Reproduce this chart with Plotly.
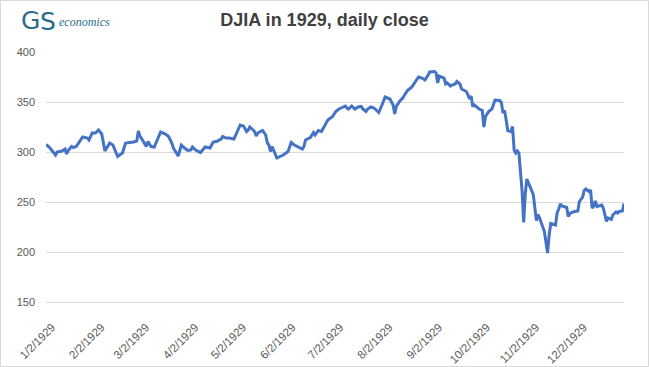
import plotly.graph_objects as go

# ---- data ----
dates = [
    "1929-01-02", "1929-01-04", "1929-01-08", "1929-01-09", "1929-01-12", "1929-01-14",
    "1929-01-15", "1929-01-16", "1929-01-18", "1929-01-19", "1929-01-21", "1929-01-23",
    "1929-01-25", "1929-01-28", "1929-01-29", "1929-01-31", "1929-02-02", "1929-02-04",
    "1929-02-06", "1929-02-08", "1929-02-11", "1929-02-13", "1929-02-16", "1929-02-19",
    "1929-02-21", "1929-02-26", "1929-02-28", "1929-03-01", "1929-03-02", "1929-03-04",
    "1929-03-06", "1929-03-07", "1929-03-09", "1929-03-11", "1929-03-13", "1929-03-15",
    "1929-03-18", "1929-03-20", "1929-03-22", "1929-03-23", "1929-03-26", "1929-03-28",
    "1929-03-30", "1929-04-01", "1929-04-03", "1929-04-04", "1929-04-06", "1929-04-09",
    "1929-04-12", "1929-04-15", "1929-04-17", "1929-04-19", "1929-04-22", "1929-04-23",
    "1929-04-25", "1929-04-27", "1929-04-30", "1929-05-02", "1929-05-04", "1929-05-06",
    "1929-05-08", "1929-05-09", "1929-05-10", "1929-05-13", "1929-05-14", "1929-05-15",
    "1929-05-18", "1929-05-20", "1929-05-21", "1929-05-22", "1929-05-23", "1929-05-24",
    "1929-05-25", "1929-05-27", "1929-05-29", "1929-05-31", "1929-06-03", "1929-06-05",
    "1929-06-07", "1929-06-10", "1929-06-12", "1929-06-13", "1929-06-14", "1929-06-17",
    "1929-06-19", "1929-06-20", "1929-06-22", "1929-06-24", "1929-06-26", "1929-06-27",
    "1929-06-28", "1929-07-01", "1929-07-03", "1929-07-05", "1929-07-08", "1929-07-09",
    "1929-07-10", "1929-07-11", "1929-07-13", "1929-07-15", "1929-07-17", "1929-07-19",
    "1929-07-20", "1929-07-22", "1929-07-23", "1929-07-25", "1929-07-27", "1929-07-30",
    "1929-08-01", "1929-08-03", "1929-08-06", "1929-08-07", "1929-08-08", "1929-08-09",
    "1929-08-10", "1929-08-12", "1929-08-14", "1929-08-16", "1929-08-17", "1929-08-19",
    "1929-08-20", "1929-08-22", "1929-08-24", "1929-08-26", "1929-08-28", "1929-08-30",
    "1929-08-31", "1929-09-03", "1929-09-04", "1929-09-05", "1929-09-06", "1929-09-09",
    "1929-09-10", "1929-09-11", "1929-09-13", "1929-09-14", "1929-09-16", "1929-09-17",
    "1929-09-19", "1929-09-20", "1929-09-23", "1929-09-24", "1929-09-25", "1929-09-26",
    "1929-09-27", "1929-09-28", "1929-10-01", "1929-10-03", "1929-10-04", "1929-10-05",
    "1929-10-07", "1929-10-09", "1929-10-11", "1929-10-14", "1929-10-15", "1929-10-16",
    "1929-10-17", "1929-10-18", "1929-10-19", "1929-10-21", "1929-10-22", "1929-10-23",
    "1929-10-24", "1929-10-25", "1929-10-26", "1929-10-28", "1929-10-29", "1929-10-30",
    "1929-10-31", "1929-11-04", "1929-11-06", "1929-11-07", "1929-11-08", "1929-11-11",
    "1929-11-12", "1929-11-13", "1929-11-14", "1929-11-15", "1929-11-18", "1929-11-19",
    "1929-11-20", "1929-11-21", "1929-11-22", "1929-11-23", "1929-11-25", "1929-11-26",
    "1929-11-27", "1929-11-29", "1929-11-30", "1929-12-02", "1929-12-03", "1929-12-04",
    "1929-12-05", "1929-12-06", "1929-12-07", "1929-12-09", "1929-12-10", "1929-12-11",
    "1929-12-12", "1929-12-13", "1929-12-14", "1929-12-17", "1929-12-18", "1929-12-20",
    "1929-12-21", "1929-12-23", "1929-12-24", "1929-12-26", "1929-12-27", "1929-12-28",
    "1929-12-30", "1929-12-31",
]

closes = [
    307.5, 305, 297, 300, 301, 303,
    298, 301.5, 305.5, 304.5, 305.5, 310.5,
    315, 314, 312, 319, 319, 322,
    318, 301, 309, 307, 295.5, 299,
    309, 310, 311, 321, 316, 311,
    305.5, 310.5, 305.5, 305, 312, 320,
    318, 315.5, 309, 304, 296, 307,
    304, 301.5, 302, 305, 302, 299.5,
    305, 304, 310, 310.5, 313, 315.5,
    314, 314, 313, 319.5, 327, 326,
    320.5, 322, 325, 320.5, 316, 319,
    321.5, 317, 309, 307, 300.5, 305.5,
    302, 294, 295.5, 297, 300.5, 309.5,
    307, 305, 303, 305.5, 312, 314.5,
    319.5, 317, 321.5, 320.5, 326, 330,
    332, 335.5, 340.5, 343, 345, 346,
    344, 343, 346, 343, 345, 345.5,
    343, 340.5, 343, 345, 344, 339.5,
    347, 355, 353, 350.5, 347, 338,
    345.5, 350.5, 354, 359, 361.5, 364,
    365.5, 370.5, 375, 374, 372, 377,
    380, 380.5, 379, 369, 376, 374,
    368, 369, 366, 367, 368, 370.5,
    368, 363, 360.5, 357, 353, 356,
    345.5, 347, 343, 341.5, 325, 335.5,
    340.5, 343, 352, 351.5, 349.5, 339,
    341.5, 332, 321.5, 320.5, 325.5, 302,
    299, 301, 299, 261, 229.5, 258.5,
    273, 257.5, 231.5, 237.5, 234, 220.5,
    210, 199, 217, 228.5, 227, 239,
    243, 248, 246, 245.5, 244.5, 235.5,
    238.5, 240, 240.5, 241, 250.5, 253.5,
    255, 261.5, 263, 260.5, 262, 244,
    246, 251, 245.5, 247, 244, 230.5,
    234, 232.5, 237, 240, 239, 240.5,
    241, 248.5,
]

tick_dates = [
    "1929-01-02", "1929-02-02", "1929-03-02", "1929-04-02", "1929-05-02", "1929-06-02",
    "1929-07-02", "1929-08-02", "1929-09-02", "1929-10-02", "1929-11-02", "1929-12-02",
]
tick_labels = [
    "1/2/1929", "2/2/1929", "3/2/1929", "4/2/1929", "5/2/1929", "6/2/1929",
    "7/2/1929", "8/2/1929", "9/2/1929", "10/2/1929", "11/2/1929", "12/2/1929",
]
y_ticks = [150, 200, 250, 300, 350, 400]

title_text = "DJIA in 1929, daily close"

# ---- figure ----
W, H = 649, 367
ML, MR, MT, MB = 46, 25, 52, 65
PW, PH = W - ML - MR, H - MT - MB

def px_x(p):
    return (p - ML) / PW

def px_y(p):
    return (H - MB - p) / PH

fig = go.Figure()
fig.add_trace(go.Scatter(
    x=dates, y=closes, mode="lines",
    line=dict(color="#4472C4", width=3),
    hoverinfo="x+y", showlegend=False,
))

y_font = dict(family="Liberation Sans, Arial, sans-serif", size=11, color="#595959")
x_font = dict(family="Liberation Sans, Arial, sans-serif", size=11.5, color="#595959")
teal = "#2a6d8c"

fig.update_layout(
    width=W, height=H,
    margin=dict(l=ML, r=MR, t=MT, b=MB, pad=0, autoexpand=False),
    paper_bgcolor="white", plot_bgcolor="white",
    title=dict(
        text="<b>" + title_text + "</b>",
        x=0.5, xref="container", xanchor="center",
        y=1 - 20 / H, yref="container", yanchor="middle",
        font=dict(family="Liberation Sans, Arial, sans-serif", size=18, color="#404040"),
    ),
    xaxis=dict(
        type="date", automargin=False,
        range=["1929-01-02", "1929-12-31"],
        tickmode="array", tickvals=tick_dates, ticktext=tick_labels,
        tickangle=-45, tickfont=x_font,
        showgrid=False, zeroline=False,
        showline=True, linecolor="#d9d9d9", linewidth=1,
        ticks="", ticklabelstandoff=13, ticklabelshift=6,
    ),
    yaxis=dict(
        automargin=False,
        range=[150, 400], tickmode="array", tickvals=y_ticks,
        tickfont=y_font,
        showgrid=True, gridcolor="#d9d9d9", gridwidth=1,
        zeroline=False, showline=False, ticks="",
        ticklabelstandoff=10,
    ),
    shapes=[dict(
        type="rect", xref="paper", yref="paper",
        x0=px_x(0.5), x1=px_x(W - 0.5), y0=px_y(H - 0.5), y1=px_y(0.5),
        line=dict(color="#d9d9d9", width=1), layer="below",
    )],
    annotations=[
        dict(text="G", xref="paper", yref="paper", x=px_x(30), y=px_y(21),
             xanchor="center", yanchor="middle", showarrow=False,
             font=dict(family="DejaVu Sans, sans-serif", size=25, color=teal)),
        dict(text="S", xref="paper", yref="paper", x=px_x(48), y=px_y(22),
             xanchor="center", yanchor="middle", showarrow=False,
             font=dict(family="DejaVu Sans, sans-serif", size=25, color=teal)),
        dict(text="<i>economics</i>", xref="paper", yref="paper", x=px_x(57), y=px_y(22),
             xanchor="left", yanchor="middle", showarrow=False,
             font=dict(family="Liberation Serif, serif", size=12, color=teal)),
    ],
)

fig.write_html("out.html", config={"displayModeBar": False})

# remove the browser's default 8px body margin so the figure sits at the page origin
with open("out.html", "r", encoding="utf-8") as f:
    html = f.read()
html = html.replace("<head>", "<head><style>html,body{margin:0;padding:0;}</style>", 1)
with open("out.html", "w", encoding="utf-8") as f:
    f.write(html)
